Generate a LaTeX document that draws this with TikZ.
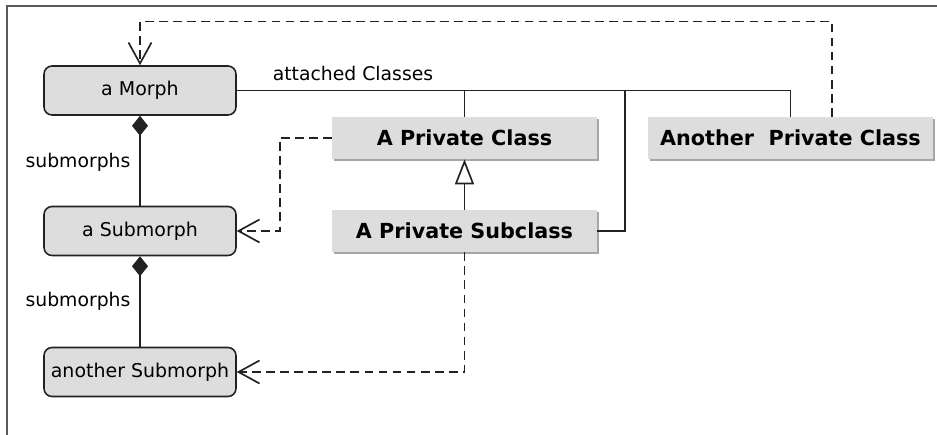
\documentclass[tikz,border=0pt]{standalone}
\usepackage{fontspec}
\setmainfont{DejaVu Sans}
\usetikzlibrary{arrows.meta,shadows}
\definecolor{boxfill}{HTML}{DDDDDD}
\definecolor{ink}{HTML}{222222}
\begin{document}
\begin{tikzpicture}[x=0.02cm,y=-0.02cm,
  txt/.style={font=\fontsize{10.7}{12}\selectfont, inner sep=0pt},
  morph/.style={draw=ink, fill=boxfill, rounded corners=0.16cm, line width=0.9pt,
    minimum width=3.84cm, minimum height=0.98cm, inner sep=0pt, font=\fontsize{10.8}{12}\selectfont},
  cls/.style={fill=boxfill, minimum height=0.84cm, inner sep=0pt,
    font=\fontsize{11.8}{13}\selectfont\bfseries,
    drop shadow={shadow xshift=0.035cm, shadow yshift=-0.035cm, fill=black!35, opacity=1}},
  conn/.style={draw=ink, line width=0.95pt},
  dep/.style={conn, dash pattern=on 5pt off 3pt, -{Straight Barb[length=0.42cm,width=0.46cm]}},
  comp/.style={conn, {Diamond[length=0.4cm,width=0.32cm]}-},
  inh/.style={conn, -{Triangle[open,length=0.5cm,width=0.38cm,fill=white]}}
]
\useasboundingbox (0,0) rectangle (937,435);
\draw[black!65, line width=0.7pt] (937,6) -- (7,6) -- (7,435);

\node[morph] (morph) at (140,90.5) {a Morph};
\node[morph] (sub) at (140,231) {a Submorph};
\node[morph] (asub) at (140,372) {another Submorph};

\node[cls, minimum width=5.3cm] (pc) at (464.5,138) {A Private Class};
\node[cls, minimum width=5.3cm] (psc) at (464.5,231) {A Private Subclass};
\node[cls, minimum width=5.7cm] (apc) at (790.5,138) {Another\ \ Private Class};

\node[txt] (lac) at (353,73) {attached Classes};
\node[txt] (ls1) at (78,162) {submorphs};
\node[txt] (ls2) at (78,301) {submorphs};

\coordinate (j1) at (464.5,90.5);
\coordinate (j2) at (625,90.5);
\draw[conn] (morph.east) -- (j1) -- (j2) -| (apc.north);
\draw[conn] (j1) -- (pc.north);
\draw[conn] (j2) |- (psc.east);

\draw[comp] (morph.south) -- (sub.north);
\draw[comp] (sub.south) -- (asub.north);

\draw[inh] (psc.north) -- (pc.south);

\draw[dep] (pc.west) -- ++(-52,0) |- (sub.east);
\draw[dep] (psc.south) |- (asub.east);
\draw[dep] ([xshift=0.83cm]apc.north) -- ++(0,-95) -| (morph.north);
\end{tikzpicture}
\end{document}
